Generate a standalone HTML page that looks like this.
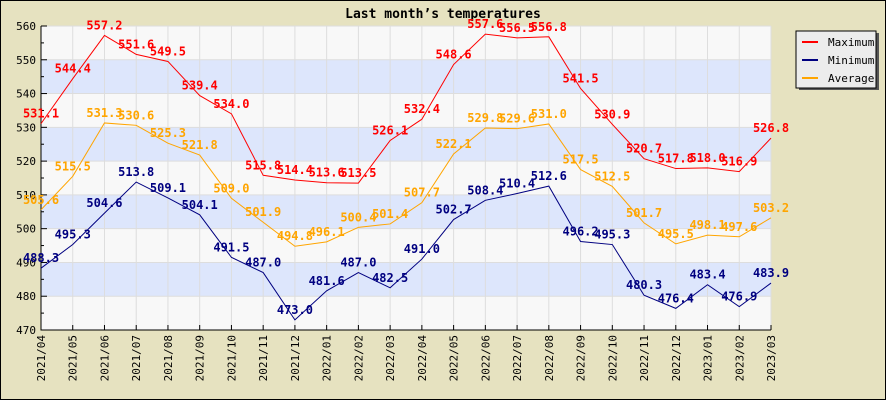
<!DOCTYPE html>
<html><head><meta charset="utf-8"><style>
body{margin:0;background:#fff}
svg{display:block}
text{font-family:"DejaVu Sans Mono","Liberation Mono",monospace}
</style></head><body>
<svg id="chart" width="886" height="400" xmlns="http://www.w3.org/2000/svg">
<rect x="0" y="0" width="886" height="400" fill="#e6e2c0" stroke="#000" stroke-width="2"/>
<text x="443" y="18" text-anchor="middle" font-size="13" font-weight="bold" fill="#000">Last month’s temperatures</text>
<g id="plot"></g>
<g>
<rect x="799" y="33" width="80" height="57" fill="#555"/>
<rect x="796" y="31" width="80" height="57" fill="#ececec" stroke="#000"/>
<line x1="802" y1="42" x2="818" y2="42" stroke="#f00" stroke-width="2"/>
<text x="828" y="46" font-size="11">Maximum</text>
<line x1="802" y1="60" x2="818" y2="60" stroke="#000080" stroke-width="2"/>
<text x="828" y="64" font-size="11">Minimum</text>
<line x1="802" y1="78" x2="818" y2="78" stroke="#ffa500" stroke-width="2"/>
<text x="828" y="82" font-size="11">Average</text>
</g>
</svg>
<script>
const categories=["2021/04","2021/05","2021/06","2021/07","2021/08","2021/09","2021/10","2021/11","2021/12","2022/01","2022/02","2022/03","2022/04","2022/05","2022/06","2022/07","2022/08","2022/09","2022/10","2022/11","2022/12","2023/01","2023/02","2023/03"];
const maxValues=[531.1,544.4,557.2,551.6,549.5,539.4,534.0,515.8,514.4,513.6,513.5,526.1,532.4,548.6,557.6,556.5,556.8,541.5,530.9,520.7,517.8,518.0,516.9,526.8];
const minValues=[488.3,495.3,504.6,513.8,509.1,504.1,491.5,487.0,473.0,481.6,487.0,482.5,491.0,502.7,508.4,510.4,512.6,496.2,495.3,480.3,476.4,483.4,476.9,483.9];
const avgValues=[505.6,515.5,531.3,530.6,525.3,521.8,509.0,501.9,494.8,496.1,500.4,501.4,507.7,522.1,529.8,529.6,531.0,517.5,512.5,501.7,495.5,498.1,497.6,503.2];
const yTicks=[470,480,490,500,510,520,530,540,550,560];
const NS="http://www.w3.org/2000/svg";
const L=41,R=771,T=26,B=330,YMIN=470,YMAX=560;
const x=i=>L+(R-L)*i/(categories.length-1);
const y=v=>B-(v-YMIN)/(YMAX-YMIN)*(B-T);
const g=document.getElementById('plot');
function mk(tag,attrs){const e=document.createElementNS(NS,tag);for(const k in attrs)e.setAttribute(k,attrs[k]);g.appendChild(e);return e;}
let bg=mk('rect',{x:L,y:T,width:R-L,height:B-T,fill:'#f8f8f8'});


for(let i=0;i<yTicks.length-1;i++){
  if(i%2===1){let b=mk('rect',{x:L,y:y(yTicks[i+1]),width:R-L,height:y(yTicks[i])-y(yTicks[i+1]),fill:'#dde6fc'});
  
  }
}
yTicks.forEach(v=>{let l=mk('line',{x1:L,x2:R,y1:y(v),y2:y(v),stroke:'#dddddd'});


let t=mk('text',{x:L-5,y:y(v)+4,'text-anchor':'end','font-size':'11',fill:'#000'});t.textContent=v;


mk('line',{x1:L,x2:L+6,y1:y(v),y2:y(v),stroke:'#000'});
if(v<YMAX)mk('line',{x1:L,x2:L+3,y1:y(v+5),y2:y(v+5),stroke:'#000'});
});
categories.forEach((c,i)=>{let l=mk('line',{x1:x(i),x2:x(i),y1:T,y2:B,stroke:'#dddddd'});


mk('line',{x1:x(i),x2:x(i),y1:B,y2:B-5,stroke:'#000'});
let t=mk('text',{x:0,y:0,'text-anchor':'end','font-size':'11',fill:'#000',transform:`translate(${x(i)+4},${B+5}) rotate(-90)`});t.textContent=c;


});
let ax=mk('path',{d:`M${L},${T}V${B}H${R}`,stroke:'#000',fill:'none'});


function series(vals,color,name){
  let p=mk('polyline',{points:vals.map((v,i)=>x(i)+','+y(v)).join(' '),fill:'none',stroke:color,'stroke-width':1});
  
  
}
function labels(vals,color,name){
  vals.forEach((v,i)=>{let t=mk('text',{x:x(i),y:y(v)-6,'text-anchor':'middle','font-size':'12','font-weight':'bold',fill:color});
  t.textContent=v.toFixed(1);
  
  });
}
series(maxValues,'#ff0000','maximum');series(minValues,'#000080','minimum');series(avgValues,'#ffa500','average');
labels(maxValues,'#ff0000','maximum');labels(minValues,'#000080','minimum');labels(avgValues,'#ffa500','average');
</script>
</body></html>
